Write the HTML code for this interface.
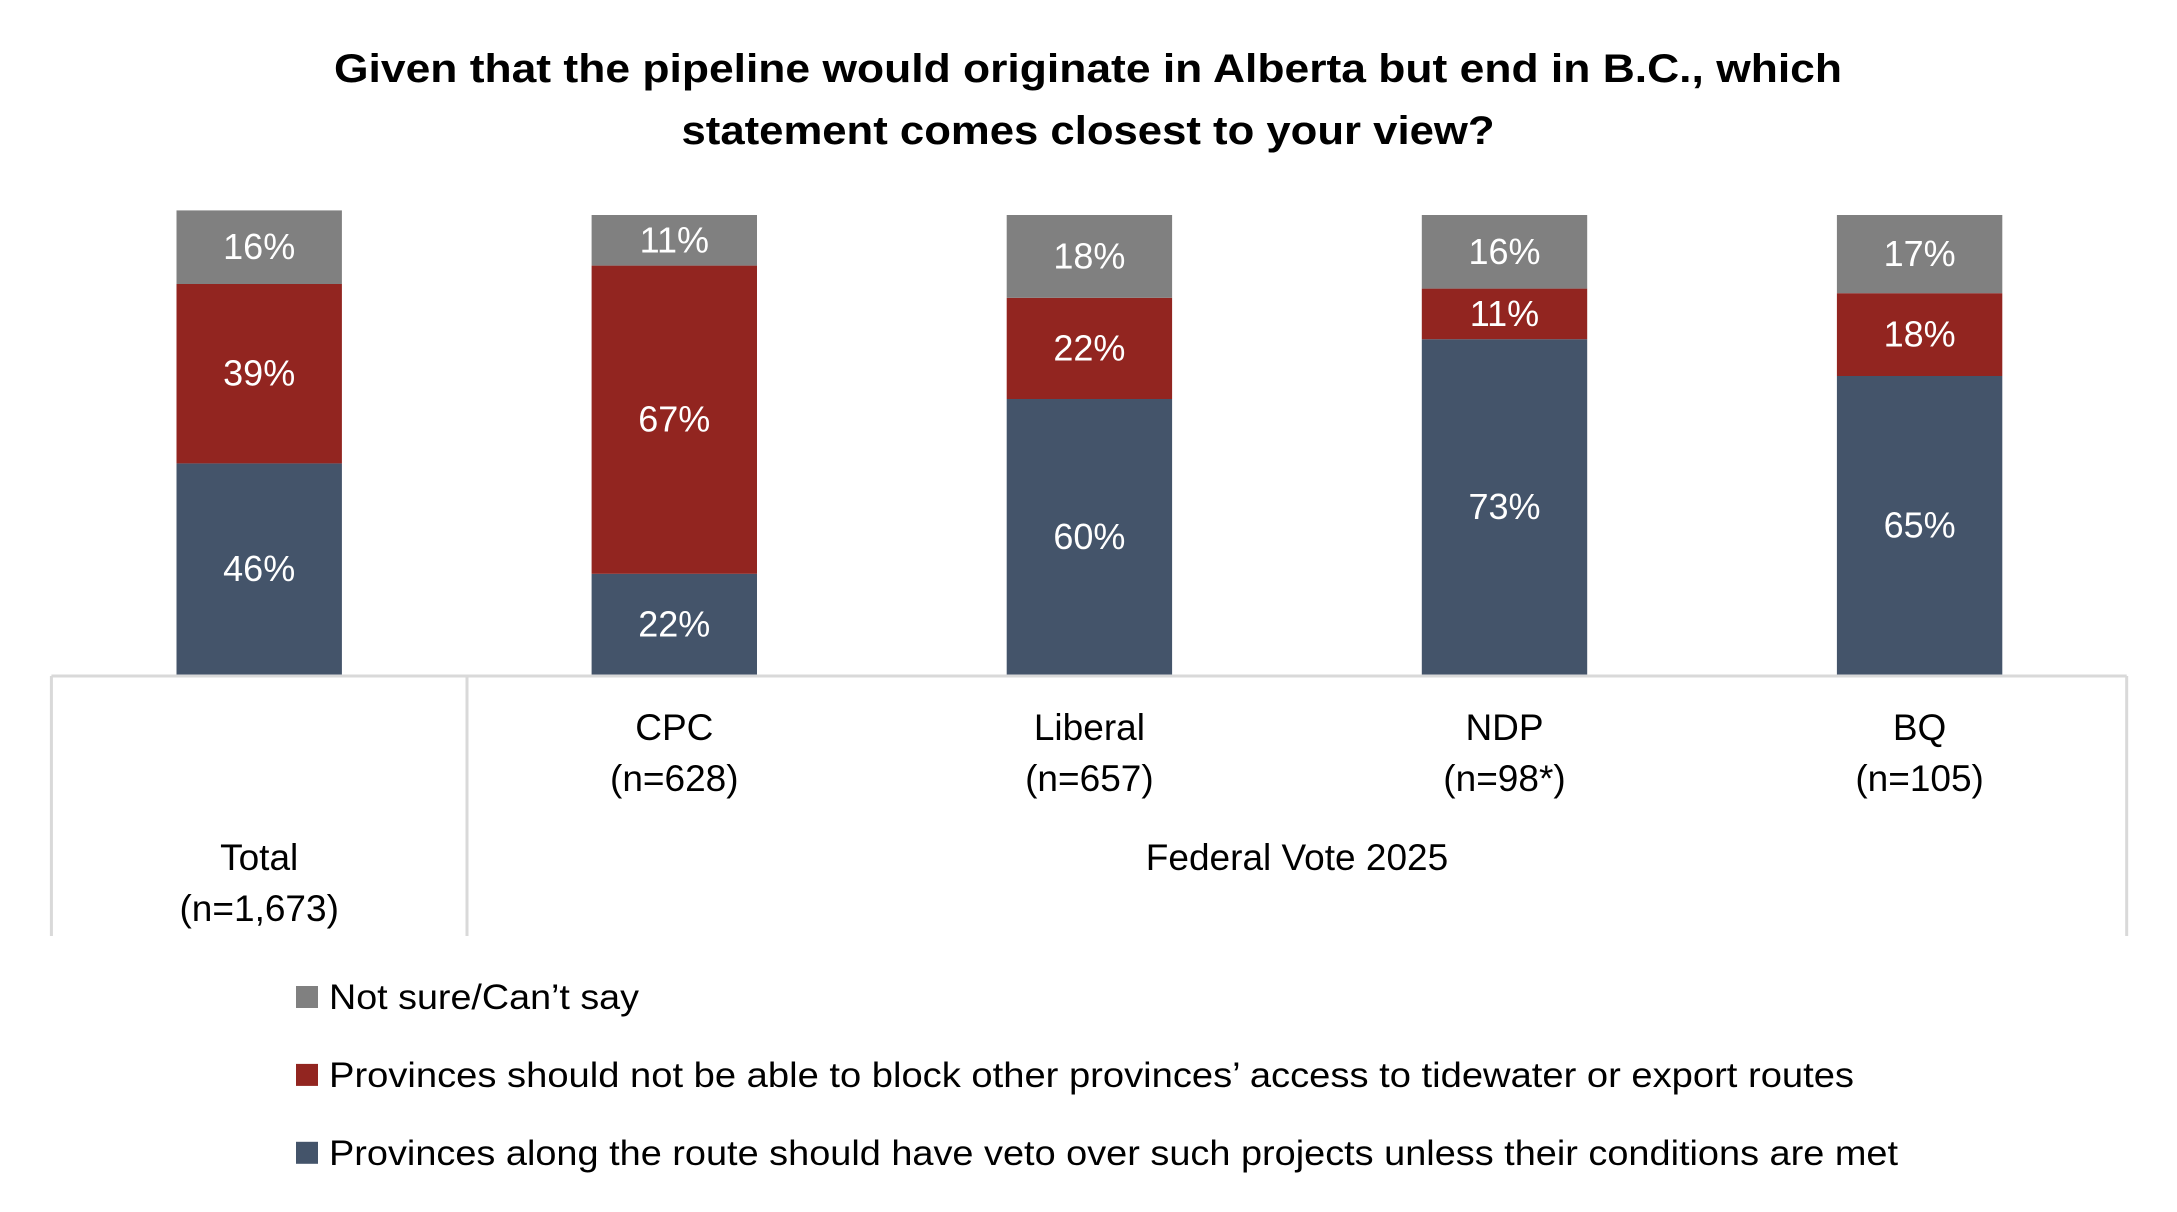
<!DOCTYPE html>
<html><head><meta charset="utf-8"><style>
html,body{margin:0;padding:0;background:#fff;}
svg{display:block;font-family:"Liberation Sans",sans-serif;}
</style></head><body>
<svg id="chart" width="2177" height="1212" viewBox="0 0 2177 1212">
<text x="1088" y="82" text-anchor="middle" font-size="40" font-weight="bold" textLength="1508" lengthAdjust="spacingAndGlyphs">Given that the pipeline would originate in Alberta but end in B.C., which</text>
<text x="1088" y="144" text-anchor="middle" font-size="40" font-weight="bold" textLength="813" lengthAdjust="spacingAndGlyphs">statement comes closest to your view?</text>
<g id="bars"></g>
<g id="table">
<line x1="51.4" y1="676" x2="2126.7" y2="676" stroke="#d9d9d9" stroke-width="3"/>
<line x1="51.4" y1="676" x2="51.4" y2="936" stroke="#d9d9d9" stroke-width="3"/>
<line x1="467" y1="676" x2="467" y2="936" stroke="#d9d9d9" stroke-width="3"/>
<line x1="2126.7" y1="676" x2="2126.7" y2="936" stroke="#d9d9d9" stroke-width="3"/>
<text x="1297" y="870" text-anchor="middle" font-size="37">Federal Vote 2025</text>
</g>
<g id="legend"></g>
</svg>
<script>
const categories = ["Total", "CPC", "Liberal", "NDP", "BQ"];
const sampleSizes = ["(n=1,673)", "(n=628)", "(n=657)", "(n=98*)", "(n=105)"];
const vetoValues = [46, 22, 60, 73, 65];
const blockValues = [39, 67, 22, 11, 18];
const notSureValues = [16, 11, 18, 16, 17];
const seriesNames = ["Provinces along the route should have veto over such projects unless their conditions are met",
  "Provinces should not be able to block other provinces\u2019 access to tidewater or export routes",
  "Not sure/Can\u2019t say"];
const colors = ["#44546a", "#922520", "#808080"];

const NS = "http://www.w3.org/2000/svg";
const baseY = 675, pxPer = 4.6, x0 = 259.2, step = 415.1, barW = 165.4;
const xScale = i => x0 + i * step;
const yScale = v => baseY - v * pxPer;
const bars = document.getElementById("bars");
const series = [vetoValues, blockValues, notSureValues];
const sNames = ["veto", "block", "not-sure"];
function mk(tag, attrs, parent) {
  const el = document.createElementNS(NS, tag);
  for (const k in attrs) el.setAttribute(k, attrs[k]);
  parent.appendChild(el);
  return el;
}
categories.forEach((c, i) => {
  let cum = 0;
  const cx = xScale(i);
  series.forEach((s, j) => {
    const v = s[i];
    const yTop = yScale(cum + v), yBot = yScale(cum);
    const r = mk("rect", {x: cx - barW / 2, y: yTop, width: barW, height: yBot - yTop, fill: colors[j]}, bars);
    
    
    const t = mk("text", {x: cx, y: (yTop + yBot) / 2 + 12, "text-anchor": "middle", "font-size": "36", fill: "#fff"}, bars);
    t.textContent = v + "%";
    
    
    cum += v;
  });
  const isTotal = i === 0;
  const y1 = isTotal ? 870 : 740, y2 = isTotal ? 921 : 791;
  const l1 = mk("text", {x: cx, y: y1, "text-anchor": "middle", "font-size": "37"}, bars);
  l1.textContent = c;
  
  
  const l2 = mk("text", {x: cx, y: y2, "text-anchor": "middle", "font-size": "37"}, bars);
  l2.textContent = sampleSizes[i];
  
  
});
const legend = document.getElementById("legend");
const legendOrder = [2, 1, 0];
const legendW = [310, 1525, 1569];
legendOrder.forEach((j, k) => {
  const cy = 997 + k * 77.9;
  const r = mk("rect", {x: 296, y: cy - 11, width: 22, height: 22, fill: colors[j]}, legend);
  
  
  const t = mk("text", {x: 329, y: cy + 12, "font-size": "35", textLength: legendW[k], lengthAdjust: "spacingAndGlyphs"}, legend);
  t.textContent = seriesNames[j];
  
  
});
</script>
</body></html>
